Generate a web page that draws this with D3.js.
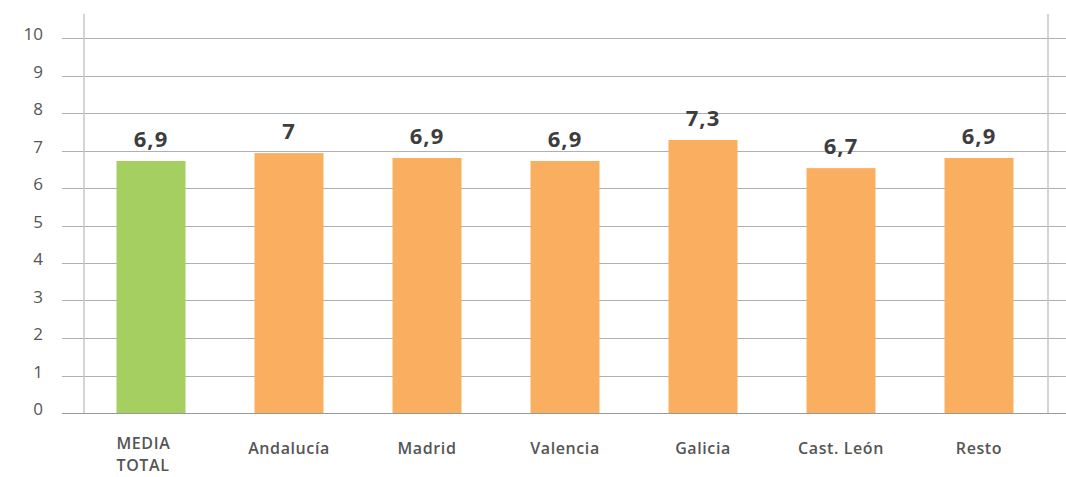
<!DOCTYPE html>
<html><head><meta charset="utf-8">
<script src="https://cdn.jsdelivr.net/npm/d3@7"></script>
<style>body{margin:0;background:#fff}svg{display:block}</style>
</head><body>
<svg id="c" width="1066" height="477"></svg>
<script>
const categories = ["MEDIA TOTAL","Andalucía","Madrid","Valencia","Galicia","Cast. León","Resto"];
const values = [6.72, 6.93, 6.8, 6.72, 7.28, 6.53, 6.8];
const valueLabels = ["6,9","7","6,9","6,9","7,3","6,7","6,9"];
const yTicks = [0,1,2,3,4,5,6,7,8,9,10];
const colors = ["#a5cf61","#f9af5f","#f9af5f","#f9af5f","#f9af5f","#f9af5f","#f9af5f"];

const svg = d3.select("#c");
const y = d3.scaleLinear().domain([0,10]).range([413,38]);
const x = d3.scaleBand().domain(categories).range([82,1048]).paddingInner(0.5).paddingOuter(0.25);

// gridlines
svg.append("g").selectAll("line").data(yTicks).join("line")
  .attr("x1",62).attr("x2",1066)
  .attr("y1",d=>Math.round(y(d))+0.5).attr("y2",d=>Math.round(y(d))+0.5)
  .attr("stroke",d=>d===0?"#999":"#adb1b5").attr("stroke-width",1.2);

// vertical frame lines
svg.append("g").selectAll("line").data([84,1048]).join("line")
  .attr("x1",d=>d).attr("x2",d=>d).attr("y1",14).attr("y2",413)
  .attr("stroke","#c5c9cd").attr("stroke-width",1.5);

// y tick labels
svg.append("g").selectAll("text").data(yTicks).join("text")
  .attr("x",43).attr("y",d=>y(d)+2)
  .attr("text-anchor","end")
  .attr("font-family","'Open Sans', sans-serif").attr("font-size",17)
  .attr("fill","#555").text(d=>d);

// bars
svg.append("g").selectAll("rect").data(categories).join("rect")
  .attr("x",d=>x(d)).attr("width",x.bandwidth())
  .attr("y",(d,i)=>y(values[i])).attr("height",(d,i)=>y(0)-y(values[i]))
  .attr("fill",(d,i)=>colors[i]);

// value labels
svg.append("g").selectAll("text").data(categories).join("text")
  .attr("x",d=>x(d)+x.bandwidth()/2).attr("y",(d,i)=>y(values[i])-14)
  .attr("text-anchor","middle")
  .attr("font-family","'Open Sans', sans-serif").attr("font-weight","bold").attr("font-size",22)
  .attr("letter-spacing",1)
  .attr("fill","#3d3d3d").text((d,i)=>valueLabels[i]);

// category labels (one text element per line)
const lines = [];
categories.forEach(d=>{
  const multi = d === "MEDIA TOTAL";
  const words = multi ? ["MEDIA","TOTAL"] : [d];
  words.forEach((w,i)=>lines.push({
    text:w,
    x: multi ? x(d) : x(d)+x.bandwidth()/2,
    anchor: multi ? "start" : "middle",
    y: (multi?449:454)+i*22
  }));
});
svg.append("g").selectAll("text").data(lines).join("text")
  .attr("x",d=>d.x).attr("y",d=>d.y).attr("text-anchor",d=>d.anchor)
  .attr("font-family","'Open Sans', sans-serif").attr("font-weight",600).attr("font-size",16)
  .attr("letter-spacing",0.6)
  .attr("fill","#555").text(d=>d.text);
</script>
</body></html>
